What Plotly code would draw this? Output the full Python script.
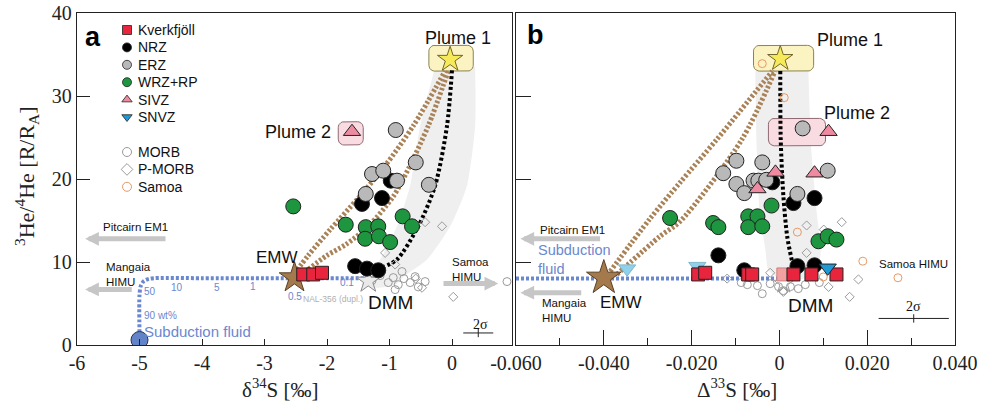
import math
import plotly.graph_objects as go

W, H = 984, 404
SANS = "Liberation Sans, Arial, sans-serif"
SERIF = "Liberation Serif, Times New Roman, serif"

# ---------------- data: panel a (d34S vs 3He/4He) ----------------
A_KVERK_X = [-2.38, -2.22, -2.08]
A_KVERK_Y = [8.5, 8.5, 8.7]
A_NRZ_X = [-0.98, -1.44, -1.12, -1.55, -1.36, -1.18]
A_NRZ_Y = [19.8, 17.0, 17.7, 9.5, 9.2, 9.0]
A_ERZ_X = [-0.9, -0.58, -0.37, -1.28, -1.1, -0.88, -1.38]
A_ERZ_Y = [25.9, 22.0, 19.3, 20.6, 21.0, 19.8, 18.2]
A_WRZ_X = [-2.54, -1.7, -1.38, -1.18, -0.79, -0.64, -1.39, -1.17, -0.99]
A_WRZ_Y = [16.7, 14.5, 14.2, 14.3, 15.5, 14.3, 12.8, 13.1, 12.4]
A_SIVZ_X = [-1.6]
A_SIVZ_Y = [25.7]
A_MORB_X = [-1.28, -1.15, -1.02, -0.94, -0.86, -0.77, -0.67, -0.59, -0.8, -0.54, -0.91, -0.43, 0.88]
A_MORB_Y = [7.76, 8.36, 7.52, 8.12, 7.27, 8.0, 7.52, 8.24, 8.85, 7.0, 6.67, 7.64, 7.64]
A_PMORB_X = [-0.43, -0.16, -1.07, -0.91, -0.58, -0.48, 0.02]
A_PMORB_Y = [14.8, 14.3, 11.1, 9.7, 8.0, 6.9, 5.8]
A_PLUME1 = (-0.03, 34.4)
A_EMW = (-2.52, 8.1)
A_DMM = (-1.34, 7.7)
A_FLUID = (-5.0, 0.6)

# mixing curves (panel a)
A_FLUIDMIX_X = [-5.0, -5.0, -4.98, -4.93, -4.83, -4.0, -3.0, -2.0, -1.4]
A_FLUIDMIX_Y = [1.5, 6.0, 7.1, 7.7, 8.0, 8.05, 8.05, 8.05, 8.05]
A_DMMMIX_X = [0.0, -0.08, -0.27, -0.54, -0.88, -1.1]
A_DMMMIX_Y = [33.1, 26.4, 19.2, 14.3, 10.3, 9.4]
A_EMWMIX1_X = [-2.52, -2.3, -1.95, -1.5, -1.07, -0.62, -0.11]
A_EMWMIX1_Y = [8.6, 10.8, 13.9, 17.7, 21.6, 26.4, 33.0]
A_EMWMIX2_X = [-2.35, -2.0, -1.7, -1.34, -0.94, -0.70, -0.38, -0.06]
A_EMWMIX2_Y = [8.8, 10.8, 12.1, 14.3, 17.9, 21.2, 26.4, 33.0]
A_BAND_X = [-0.27, -0.51, -0.67, -0.88, -1.15, -1.36, -1.45, -1.2, -0.9, -0.78, -0.4, -0.03, 0.24, 0.37, 0.37]
A_BAND_Y = [33.5, 26.4, 19.2, 14.3, 10.3, 8.2, 7.3, 6.9, 7.3, 8.2, 10.3, 14.3, 19.2, 26.4, 33.5]
FLUID_FRACTION_LABELS = ["50", "10", "5", "1", "0.5", "0.1"]
A_TICKS = [-6, -5, -4, -3, -2, -1, 0]
A_TICKTEXT = ["-6", "-5", "-4", "-3", "-2", "-1", "0"]

# ---------------- data: panel b (D33S vs 3He/4He) ----------------
B_KVERK_X = [-0.0185, -0.0169, -0.0071, -0.0062, 0.0032, 0.0073, 0.013]
B_KVERK_Y = [8.5, 8.7, 8.5, 8.5, 8.5, 8.5, 8.5]
B_KVERK_FADED_X = [0.0009]
B_KVERK_FADED_Y = [8.5]
B_NRZ_X = [-0.0016, 0.008, 0.0032, -0.0139, -0.008, 0.0041, 0.008]
B_NRZ_Y = [19.6, 17.7, 17.1, 10.8, 9.0, 9.5, 9.6]
B_ERZ_X = [-0.0098, -0.0039, -0.0128, 0.011, -0.0098, -0.008, -0.0059, -0.0048, -0.003, 0.0041, 0.0053]
B_ERZ_Y = [22.2, 22.0, 20.7, 21.0, 19.4, 18.3, 19.8, 19.8, 19.9, 18.2, 26.1]
B_WRZ_X = [-0.0249, -0.0151, -0.0139, -0.0071, -0.005, -0.0071, -0.0039, -0.0018, 0.0089, 0.011, 0.013]
B_WRZ_Y = [15.3, 14.7, 14.2, 15.5, 15.5, 14.2, 14.3, 16.8, 12.5, 13.1, 12.7]
B_SIVZ_X = [-0.0009, 0.008, -0.005, 0.0112]
B_SIVZ_Y = [20.8, 20.7, 18.8, 25.7]
B_SNVZ_X = [0.011]
B_SNVZ_Y = [9.3]
B_SNVZ_FADED_X = [-0.0347, -0.0187]
B_SNVZ_FADED_Y = [9.2, 9.5]
B_MORB_X = [-0.0073, -0.005, -0.0039, -0.0021, -0.0002, 0.0009, 0.0025, 0.0043, 0.0059, 0.0091, -0.0087]
B_MORB_Y = [7.27, 7.15, 6.18, 7.39, 7.03, 6.55, 7.03, 6.79, 7.27, 7.52, 7.52]
B_PMORB_X = [0.0142, 0.0101, 0.0062, 0.0062, -0.0119, -0.0021, 0.0112, 0.018, 0.016, 0.0009]
B_PMORB_Y = [14.8, 13.9, 14.4, 11.1, 8.0, 8.7, 7.0, 7.9, 5.8, 6.4]
B_SAMOA_X = [-0.0039, 0.0011, 0.0041, 0.010, 0.019, 0.027]
B_SAMOA_Y = [33.9, 29.8, 13.6, 8.2, 10.1, 8.1]
B_PLUME1 = (0.0002, 34.5)
B_EMW = (-0.040, 8.1)
B_DMM = (0.001, 7.4)

B_FLUIDMIX_X = [-0.060, -0.040, -0.020, 0.0, 0.002]
B_FLUIDMIX_Y = [8.0, 8.0, 8.0, 8.0, 8.0]
B_DMMMIX_X = [0.0002, 0.0003, 0.0009, 0.0018, 0.003]
B_DMMMIX_Y = [33.0, 24.8, 18.0, 13.0, 9.8]
B_EMWMIX1_X = [-0.0392, -0.0295, -0.0226, -0.0142, -0.0016]
B_EMWMIX1_Y = [8.4, 15.2, 19.6, 24.8, 33.0]
B_EMWMIX2_X = [-0.037, -0.0272, -0.0226, -0.0085, -0.001]
B_EMWMIX2_Y = [8.5, 13.1, 14.9, 24.8, 33.0]
B_BAND_X = [-0.0055, -0.0052, -0.0045, -0.0032, -0.0025, 0.001, 0.0085, 0.0094, 0.0085, 0.0072, 0.0066]
B_BAND_Y = [33.0, 24.0, 16.0, 11.5, 9.0, 7.8, 8.5, 11.5, 16.0, 24.0, 33.0]
B_TICKS = [-0.06, -0.04, -0.02, 0, 0.02, 0.04]
B_TICKTEXT = ["-0.060", "-0.040", "-0.020", "0", "0.020", "0.040"]
B_MINOR_TICKS = [-0.05, -0.03, -0.01, 0.01, 0.03]
Y_TICKS = [0, 10, 20, 30, 40]

LEGEND_LABELS = ["Kverkfjöll", "NRZ", "ERZ", "WRZ+RP", "SIVZ", "SNVZ", "MORB", "P-MORB", "Samoa"]

# ---------------- styles ----------------
C_RED = "#e8253d"
C_BLACK = "#000000"
C_GREY = "#b9b9b9"
C_GREEN = "#1e9640"
C_PINK = "#ef8ba0"
C_BLUE = "#1f9ad6"
C_LBLUE = "#8fd0ea"
C_OPEN = "#9a9a9a"
C_ORANGE = "#e59a66"
C_BROWN = "#a98257"
C_FLUID = "#6a88cf"
C_BAND = "#efefef"
C_ARROW = "#c6c6c6"
EDGE = dict(color="#222", width=1)

fig = go.Figure()


def pts(x, y, xa, ya, symbol, color, size, line=EDGE, opacity=1.0):
    fig.add_trace(go.Scatter(x=x, y=y, xaxis=xa, yaxis=ya, mode="markers", showlegend=False,
                             hoverinfo="skip", opacity=opacity,
                             marker=dict(symbol=symbol, color=color, size=size, line=line)))


def curve(x, y, xa, ya, color, width, dash, shape="spline"):
    fig.add_trace(go.Scatter(x=x, y=y, xaxis=xa, yaxis=ya, mode="lines", showlegend=False,
                             hoverinfo="skip", line=dict(color=color, width=width, dash=dash,
                                                         shape=shape, smoothing=0.8)))


def band(x, y, xa, ya):
    fig.add_trace(go.Scatter(x=x, y=y, xaxis=xa, yaxis=ya, mode="lines", fill="toself",
                             fillcolor=C_BAND, line=dict(width=0, shape="spline", smoothing=0.6),
                             showlegend=False, hoverinfo="skip"))


def rbox(x0, x1, y0, y1, rx, ry, xa, ya, fill, edge):
    """rounded rectangle outline drawn as a filled trace (so it sits above the grey band)"""
    xs, ys = [], []
    corners = [(x1 - rx, y1 - ry, 0), (x0 + rx, y1 - ry, 90), (x0 + rx, y0 + ry, 180), (x1 - rx, y0 + ry, 270)]
    for cx, cy, a0 in corners:
        for k in range(7):
            a = math.radians(a0 + 15 * k)
            xs.append(cx + rx * math.cos(a))
            ys.append(cy + ry * math.sin(a))
    xs.append(xs[0])
    ys.append(ys[0])
    fig.add_trace(go.Scatter(x=xs, y=ys, xaxis=xa, yaxis=ya, mode="lines", fill="toself",
                             fillcolor=fill, line=dict(color=edge, width=1),
                             showlegend=False, hoverinfo="skip"))


# ---- panel a ----
band(A_BAND_X, A_BAND_Y, "x", "y")
rbox(-0.37, 0.34, 33.0, 36.1, 0.09, 0.7, "x", "y", "#fcf3c2", "#8a8450")
rbox(-1.82, -1.42, 24.1, 26.9, 0.09, 0.7, "x", "y", "#f9dbe2", "#8f6a72")
curve(A_EMWMIX1_X, A_EMWMIX1_Y, "x", "y", C_BROWN, 5, "2.5px,2px")
curve(A_EMWMIX2_X, A_EMWMIX2_Y, "x", "y", C_BROWN, 5, "2.5px,2px")
curve(A_DMMMIX_X, A_DMMMIX_Y, "x", "y", C_BLACK, 4, "3px,2.5px")
curve(A_FLUIDMIX_X, A_FLUIDMIX_Y, "x", "y", C_FLUID, 4, "3px,2px")
pts(A_MORB_X, A_MORB_Y, "x", "y", "circle-open", C_OPEN, 8, line=dict(color=C_OPEN, width=1))
pts(A_PMORB_X, A_PMORB_Y, "x", "y", "diamond-open", C_OPEN, 7, line=dict(color=C_OPEN, width=1))
pts([A_DMM[0]], [A_DMM[1]], "x", "y", "star", "#e9e9e9", 18, line=dict(color="#8a8a8a", width=1))
pts(A_WRZ_X, A_WRZ_Y, "x", "y", "circle", C_GREEN, 15)
pts(A_NRZ_X, A_NRZ_Y, "x", "y", "circle", C_BLACK, 15)
pts(A_ERZ_X, A_ERZ_Y, "x", "y", "circle", C_GREY, 15)
pts([A_EMW[0]], [A_EMW[1]], "x", "y", "star", "#a47a4c", 23, line=dict(color="#5a4025", width=1))
pts(A_KVERK_X, A_KVERK_Y, "x", "y", "square", C_RED, 13)
pts(A_SIVZ_X, A_SIVZ_Y, "x", "y", "triangle-up", C_PINK, 15)
pts([A_PLUME1[0]], [A_PLUME1[1]], "x", "y", "star", "#f7ea5a", 19, line=dict(color="#6f6530", width=1))
pts([A_FLUID[0]], [A_FLUID[1]], "x", "y", "circle", "#6283c8", 17, line=dict(color="#334", width=1))

# ---- panel b ----
band(B_BAND_X, B_BAND_Y, "x2", "y2")
rbox(-0.0059, 0.0078, 33.0, 36.1, 0.0014, 0.7, "x2", "y2", "#fcf3c2", "#8a8450")
rbox(-0.0025, 0.0105, 24.0, 27.3, 0.0014, 0.7, "x2", "y2", "#f9dbe2", "#8f6a72")
curve(B_EMWMIX1_X, B_EMWMIX1_Y, "x2", "y2", C_BROWN, 5, "2.5px,2px")
curve(B_EMWMIX2_X, B_EMWMIX2_Y, "x2", "y2", C_BROWN, 5, "2.5px,2px")
curve(B_FLUIDMIX_X, B_FLUIDMIX_Y, "x2", "y2", C_FLUID, 4, "3px,2px", shape="linear")
curve(B_DMMMIX_X, B_DMMMIX_Y, "x2", "y2", C_BLACK, 4, "3px,2.5px")
pts(B_MORB_X, B_MORB_Y, "x2", "y2", "circle-open", C_OPEN, 8, line=dict(color=C_OPEN, width=1))
pts(B_PMORB_X, B_PMORB_Y, "x2", "y2", "diamond-open", C_OPEN, 7, line=dict(color=C_OPEN, width=1))
pts(B_SAMOA_X, B_SAMOA_Y, "x2", "y2", "circle-open", C_ORANGE, 8, line=dict(color=C_ORANGE, width=1))
pts([B_DMM[0]], [B_DMM[1]], "x2", "y2", "star-open", "#9a9a9a", 15, line=dict(color="#9a9a9a", width=1))
pts(B_WRZ_X, B_WRZ_Y, "x2", "y2", "circle", C_GREEN, 15)
pts(B_NRZ_X, B_NRZ_Y, "x2", "y2", "circle", C_BLACK, 15)
pts(B_ERZ_X, B_ERZ_Y, "x2", "y2", "circle", C_GREY, 15)
pts(B_SIVZ_X, B_SIVZ_Y, "x2", "y2", "triangle-up", C_PINK, 15)
pts(B_SNVZ_FADED_X, B_SNVZ_FADED_Y, "x2", "y2", "triangle-down", C_LBLUE, 15,
    line=dict(color="#7fb8cc", width=1))
pts(B_KVERK_FADED_X, B_KVERK_FADED_Y, "x2", "y2", "square", "#f2a0a0", 13,
    line=dict(color="#d08080", width=1))
pts(B_KVERK_X, B_KVERK_Y, "x2", "y2", "square", C_RED, 13)
pts(B_SNVZ_X, B_SNVZ_Y, "x2", "y2", "triangle-down", C_BLUE, 15)
pts([B_EMW[0]], [B_EMW[1]], "x2", "y2", "star", "#a47a4c", 26, line=dict(color="#5a4025", width=1))
pts([B_PLUME1[0]], [B_PLUME1[1]], "x2", "y2", "star", "#f7ea5a", 19, line=dict(color="#6f6530", width=1))

# ---- 2-sigma scale bars (error bars through library scales) ----
for xa, ya, cx, cy, half in [("x", "y", 0.42, 1.45, 0.24), ("x2", "y2", 0.0306, 3.2, 0.008)]:
    fig.add_trace(go.Scatter(x=[cx], y=[cy], xaxis=xa, yaxis=ya, mode="markers", showlegend=False,
                             hoverinfo="skip",
                             marker=dict(symbol="line-ns", size=6, line=dict(color="#222", width=1)),
                             error_x=dict(type="data", array=[half], color="#222", thickness=1, width=0)))

# ---- legend key (drawn in a pixel-space overlay) ----
leg_sym = ["square", "circle", "circle", "circle", "triangle-up", "triangle-down",
           "circle-open", "diamond-open", "circle-open"]
leg_col = [C_RED, C_BLACK, C_GREY, C_GREEN, C_PINK, C_BLUE, C_OPEN, C_OPEN, C_ORANGE]
leg_y = []
yy = 30.0
for i in range(len(LEGEND_LABELS)):
    leg_y.append(yy)
    yy += 17.4 if i != 5 else 35.0
leg_line = [dict(color="#222", width=0.8) if not s.endswith("open") else dict(color=c, width=1)
            for s, c in zip(leg_sym, leg_col)]
for s, c, y, ln in zip(leg_sym, leg_col, leg_y, leg_line):
    fig.add_trace(go.Scatter(x=[127], y=[y], xaxis="x3", yaxis="y3", mode="markers", showlegend=False,
                             hoverinfo="skip", marker=dict(symbol=s, color=c, size=9, line=ln)))

annotations = []
for lab, y in zip(LEGEND_LABELS, leg_y):
    annotations.append(dict(text=lab, x=136 / W, y=1 - y / H, xref="paper", yref="paper",
                            xanchor="left", yanchor="middle", showarrow=False,
                            font=dict(family=SANS, size=14, color="#111")))


def txt(t, x, y, xr, yr, size, color="#111", family=SANS, xanchor="center", **kw):
    annotations.append(dict(text=t, x=x, y=y, xref=xr, yref=yr, showarrow=False, xanchor=xanchor,
                            yanchor="middle", font=dict(family=family, size=size, color=color), **kw))


def arrow(x0, y0, x1, y1, xr, yr):
    annotations.append(dict(text="", x=x1, y=y1, ax=x0, ay=y0, xref=xr, yref=yr, axref=xr, ayref=yr,
                            showarrow=True, arrowhead=2, arrowsize=0.55, arrowwidth=5,
                            arrowcolor=C_ARROW, standoff=0, startstandoff=0))


# panel a labels
txt("<b>a</b>", 93 / W, 1 - 37 / H, "paper", "paper", 27, color="#000")
txt("Plume 1", 0.1, 37.0, "x", "y", 18)
txt("Plume 2", -2.46, 25.7, "x", "y", 18)
txt("EMW", -2.8, 10.5, "x", "y", 17)
txt("DMM", -0.99, 5.1, "x", "y", 19)
txt("Pitcairn EM1", -5.06, 14.2, "x", "y", 11.5)
txt("Mangaia<br>HIMU", -5.57, 8.5, "x", "y", 11.5, xanchor="left", align="left")
txt("Samoa<br>HIMU", -0.03, 9.15, "x", "y", 11.5, xanchor="left", align="left")
for lab, (lx, ly) in zip(FLUID_FRACTION_LABELS,
                         [(-4.83, 6.4), (-4.4, 6.9), (-3.76, 6.9), (-3.18, 7.0), (-2.51, 5.8), (-1.68, 7.5)]):
    txt(lab, lx, ly, "x", "y", 10, color=C_FLUID)
txt("90 wt%", -4.67, 3.6, "x", "y", 10, color=C_FLUID)
txt("NAL-356 (dupl.)", -1.9, 5.6, "x", "y", 8.5, color="#b0b0b0")
txt("Subduction fluid", -4.08, 1.6, "x", "y", 15, color=C_FLUID)
txt("2σ", 0.45, 2.5, "x", "y", 14, family=SERIF)
arrow(-4.56, 12.8, -5.87, 12.8, "x", "y")
arrow(-5.1, 6.7, -5.87, 6.7, "x", "y")
arrow(-0.16, 7.4, 0.74, 7.4, "x", "y")

# panel b labels
txt("<b>b</b>", 535 / W, 1 - 35 / H, "paper", "paper", 27, color="#000")
txt("Plume 1", 0.016, 36.7, "x2", "y2", 18)
txt("Plume 2", 0.0176, 27.9, "x2", "y2", 18)
txt("EMW", -0.036, 5.1, "x2", "y2", 17)
txt("DMM", 0.0071, 4.8, "x2", "y2", 19)
txt("Pitcairn EM1", -0.0551, 13.9, "x2", "y2", 11.5, xanchor="left")
txt("Subduction<br>fluid", -0.0555, 10.3, "x2", "y2", 14.5, color=C_FLUID, xanchor="left", align="left")
txt("Mangaia<br>HIMU", -0.0546, 4.2, "x2", "y2", 11.5, xanchor="left", align="left")
txt("Samoa HIMU", 0.0306, 9.8, "x2", "y2", 11.5)
txt("2σ", 0.0306, 4.6, "x2", "y2", 14, family=SERIF)
arrow(-0.0405, 12.8, -0.059, 12.8, "x2", "y2")
arrow(-0.0448, 6.3, -0.059, 6.3, "x2", "y2")

# axis titles
txt("δ<sup>34</sup>S [‰]", 280 / W, 1 - 388 / H, "paper", "paper", 21, family=SERIF, color="#222")
txt("Δ<sup>33</sup>S [‰]", 737 / W, 1 - 388 / H, "paper", "paper", 21, family=SERIF, color="#222")
txt("<sup>3</sup>He/<sup>4</sup>He [R/R<sub>A</sub>]", 27 / W, 1 - 176 / H, "paper", "paper", 22,
    family=SERIF, color="#222", textangle=-90)

axis_common = dict(showgrid=False, zeroline=False, showline=True, linecolor="#222", linewidth=1.3,
                   mirror=True, ticks="inside", tickcolor="#222", tickwidth=1.3, automargin=False,
                   tickfont=dict(family=SERIF, size=20, color="#222"))

fig.update_layout(
    template="none",
    width=W, height=H, margin=dict(l=0, r=0, t=0, b=0, pad=0, autoexpand=False),
    paper_bgcolor="white", plot_bgcolor="rgba(0,0,0,0)",
    showlegend=False,
    xaxis=dict(domain=[77 / W, 512 / W], range=[-6, 0.96], anchor="y",
               tickvals=A_TICKS, ticktext=A_TICKTEXT, ticklen=6, ticklabelstandoff=0, **axis_common),
    yaxis=dict(domain=[1 - 345 / H, 1 - 13 / H], range=[0, 40], anchor="x",
               tickvals=Y_TICKS, ticklen=13, **axis_common),
    xaxis2=dict(domain=[516 / W, 955 / W], range=[-0.06, 0.04], anchor="y2",
                tickvals=B_TICKS, ticktext=B_TICKTEXT, ticklen=15, ticklabelstandoff=0,
                minor=dict(tickvals=B_MINOR_TICKS, ticklen=7, ticks="inside",
                           tickcolor="#222", tickwidth=1.3),
                **axis_common),
    yaxis2=dict(domain=[1 - 345 / H, 1 - 13 / H], range=[0, 40], anchor="x2",
                tickvals=[10, 20, 30], ticklen=15, showticklabels=False, **axis_common),
    xaxis3=dict(domain=[0, 1], range=[0, W], visible=False, anchor="y3", fixedrange=True,
                automargin=False),
    yaxis3=dict(domain=[0, 1], range=[H, 0], visible=False, anchor="x3", fixedrange=True,
                automargin=False),
    annotations=annotations,
)

fig.write_html("out.html")
